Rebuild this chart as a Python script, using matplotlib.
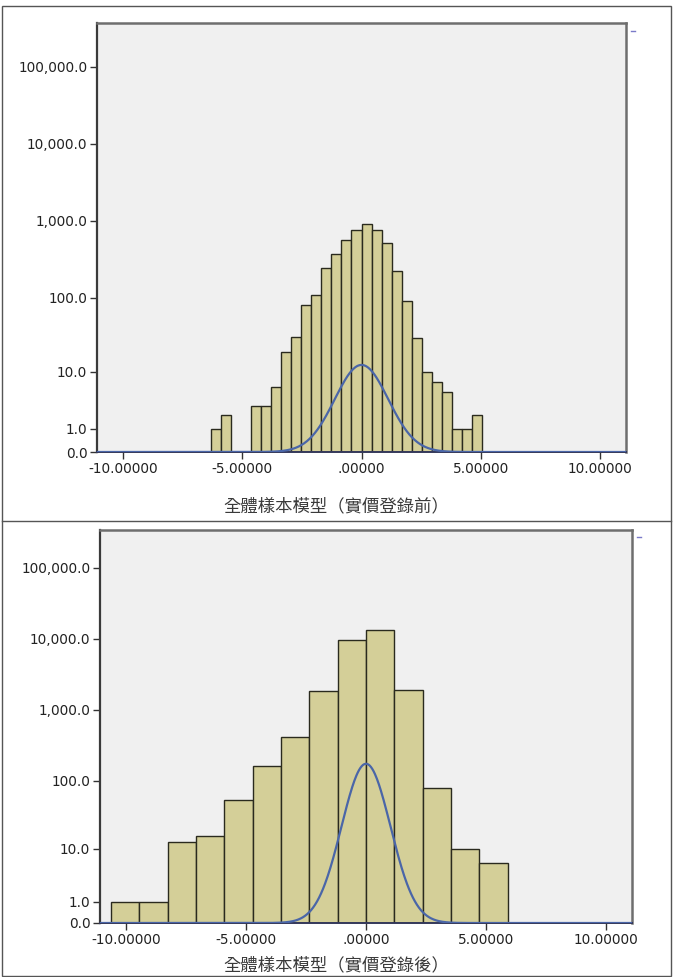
import numpy as np
import matplotlib
matplotlib.use('Agg')
import matplotlib.pyplot as plt
from matplotlib.lines import Line2D
from matplotlib.patches import Rectangle

plt.rcParams['font.family'] = ['DejaVu Sans', 'Noto Sans CJK TC']

# ── 데이터 ──
# 실가등록 전: bin 폭 0.42, 첫 bin 왼쪽 끝 = -15 * 0.42
before_bin_w = 0.42
before_first_k = -15
before_counts = [1, 2, 0, 0, 3, 3, 6, 19, 30, 81, 108, 245, 372, 571,
                 764, 906, 764, 517, 221, 90, 29, 10, 7, 5, 1, 1, 2]
before_curve = {'mean': 0.0, 'sd': 1.12, 'peak': 12.5}

# 실가등록 후: bin 폭 1.18, 첫 bin 왼쪽 끝 = -9 * 1.18
after_bin_w = 1.18
after_first_k = -9
after_counts = [1, 1, 13, 16, 53, 162, 419, 1850, 9600, 13150, 1910, 78, 10, 6]
after_curve = {'mean': 0.0, 'sd': 1.02, 'peak': 173.0}

xticks = [-10, -5, 0, 5, 10]
xtick_labels = ['-10.00000', '-5.00000', '.00000', '5.00000', '10.00000']
yticks = [0, 1, 10, 100, 1000, 10000, 100000]
ytick_labels = ['0.0', '1.0', '10.0', '100.0', '1,000.0', '10,000.0', '100,000.0']

titles = ['全體樣本模型（實價登錄前）', '全體樣本模型（實價登錄後）']

BAR_FC = '#d4cf98'
CURVE_C = '#4a66a8'
BG = '#f0f0f0'


# SPSS safe-log 축: log10(1 + y)
def fwd(y):
    return np.log10(1 + np.clip(y, 0, None))


def inv(t):
    return 10 ** t - 1


W, H = 673, 977
fig = plt.figure(figsize=(W / 100, H / 100), dpi=100)


def px_axes(l, r, t, b):
    return fig.add_axes([l / W, 1 - b / H, (r - l) / W, (b - t) / H])


def draw_panel(ax, counts, bin_w, first_k, curve, ytop):
    edges = (first_k + np.arange(len(counts))) * bin_w
    ax.set_facecolor(BG)
    ax.set_yscale('function', functions=(fwd, inv))
    ax.bar(edges, counts, width=bin_w, align='edge', color=BAR_FC,
           edgecolor='#2a2a1e', linewidth=1.0, zorder=2)

    # 정규 곡선 (축 변환 공간에서 종 모양)
    xs = np.linspace(-11.08, 11.08, 800)
    tpk = fwd(curve['peak'])
    ts = tpk * np.exp(-(xs - curve['mean']) ** 2 / (2 * curve['sd'] ** 2))
    ax.plot(xs, inv(ts), color=CURVE_C, lw=1.6, zorder=3)

    ax.set_xlim(-11.08, 11.08)
    ax.set_ylim(0, inv(ytop))
    ax.set_xticks(xticks)
    ax.set_xticklabels(xtick_labels, fontsize=9.8, color='#222222')
    ax.set_yticks(yticks)
    ax.set_yticklabels(ytick_labels, fontsize=9.8, color='#222222')
    ax.minorticks_off()
    ax.tick_params(direction='out', length=5, width=1.0, color='#333333', pad=2)
    for s in ['top', 'right']:
        ax.spines[s].set_color('#6e6e6e')
        ax.spines[s].set_linewidth(1.8)
    ax.spines['left'].set_color('#3a3a3a')
    ax.spines['left'].set_linewidth(1.6)
    ax.spines['bottom'].set_color('#34385a')
    ax.spines['bottom'].set_linewidth(1.4)


ax1 = px_axes(97, 626, 23, 452)
draw_panel(ax1, before_counts, before_bin_w, before_first_k, before_curve, 5.57)
ax2 = px_axes(100, 632, 530, 923)
draw_panel(ax2, after_counts, after_bin_w, after_first_k, after_curve, 5.53)

# 축 제목
for ttl, ypx in zip(titles, [506, 965]):
    fig.text(336 / W, 1 - ypx / H, ttl, ha='center', va='center',
             fontsize=12.5, color='#3a3a3a', family=['Noto Sans CJK TC'])

# 바깥 테두리 / 구분선
fig.add_artist(Rectangle((2 / W, 1 - 976 / H), 669 / W, 970 / H,
                         transform=fig.transFigure, fill=False,
                         edgecolor='#555555', lw=1.0))
fig.add_artist(Line2D([2 / W, 671 / W], [1 - 521 / H, 1 - 521 / H],
                      transform=fig.transFigure, color='#555555', lw=1.0))

# 오른쪽 위 작은 범례 표시
for xp, yp in [(631, 31), (637, 537)]:
    fig.add_artist(Line2D([xp / W, (xp + 4) / W], [1 - yp / H, 1 - yp / H],
                          transform=fig.transFigure, color='#7a7ac8', lw=1.0))

fig.savefig('out.png', dpi=100)
